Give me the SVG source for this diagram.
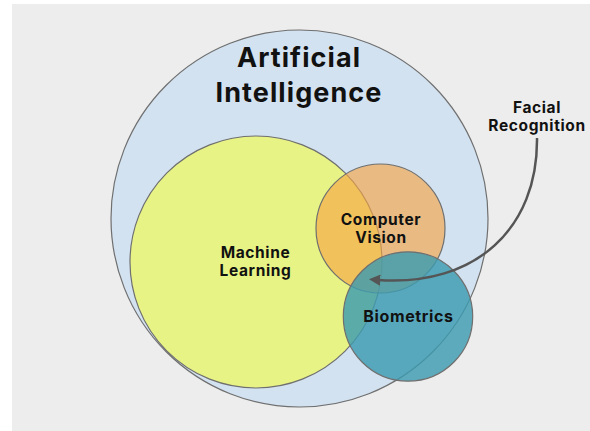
<svg xmlns="http://www.w3.org/2000/svg" width="590" height="431" viewBox="0 0 590 431">
  <style>
    .c { stroke: #6f6f6f; stroke-width: 1.2; }
    .t { font-family: Inter, "Open Sans", "Liberation Sans", sans-serif; font-weight: 700; fill: #111; text-anchor: middle; letter-spacing: 0.04em; }
    .conn { fill: none; stroke: #555; stroke-width: 2.5; }
  </style>
  <defs>
    <marker id="ah" viewBox="0 0 10 10" refX="2" refY="5" markerWidth="4.5" markerHeight="4.5" orient="auto-start-reverse" markerUnits="strokeWidth">
      <path d="M0,0 L10,5 L0,10 z" fill="#555"/>
    </marker>
  </defs>
  <rect x="0" y="0" width="590" height="431" fill="#ffffff"/>
  <rect x="12" y="4" width="578" height="427" fill="#ededed"/>
  <g id="ai">
    <circle class="c" cx="299.5" cy="218.5" r="188.5" fill="#d3e2f0"/>
    <text class="t" x="299" y="67" font-size="27">Artificial</text>
    <text class="t" x="299" y="101.5" font-size="27">Intelligence</text>
  </g>
  <g id="ml">
    <circle class="c" cx="256" cy="262" r="126" fill="#e8f385"/>
    <text class="t" x="255.5" y="258" font-size="15.5">Machine</text>
    <text class="t" x="255.5" y="276" font-size="15.5">Learning</text>
  </g>
  <g id="cv">
    <circle class="c" cx="380.5" cy="228.5" r="64.5" fill="#f5a545" fill-opacity="0.64"/>
    <text class="t" x="381" y="225" font-size="15.5">Computer</text>
    <text class="t" x="381" y="243" font-size="15.5">Vision</text>
  </g>
  <g id="bio">
    <circle class="c" cx="408" cy="316.5" r="64.7" fill="#3c9bb0" fill-opacity="0.82"/>
    <text class="t" x="408.5" y="321.5" font-size="16">Biometrics</text>
  </g>
  <g id="fr">
    <text class="t" x="537" y="113" font-size="15.5">Facial</text>
    <text class="t" x="537" y="131" font-size="15.5">Recognition</text>
  </g>
  <g id="connectors">
    <path class="conn" d="M537,138 C538,228 476,287 378,280" marker-end="url(#ah)"/>
  </g>
</svg>
